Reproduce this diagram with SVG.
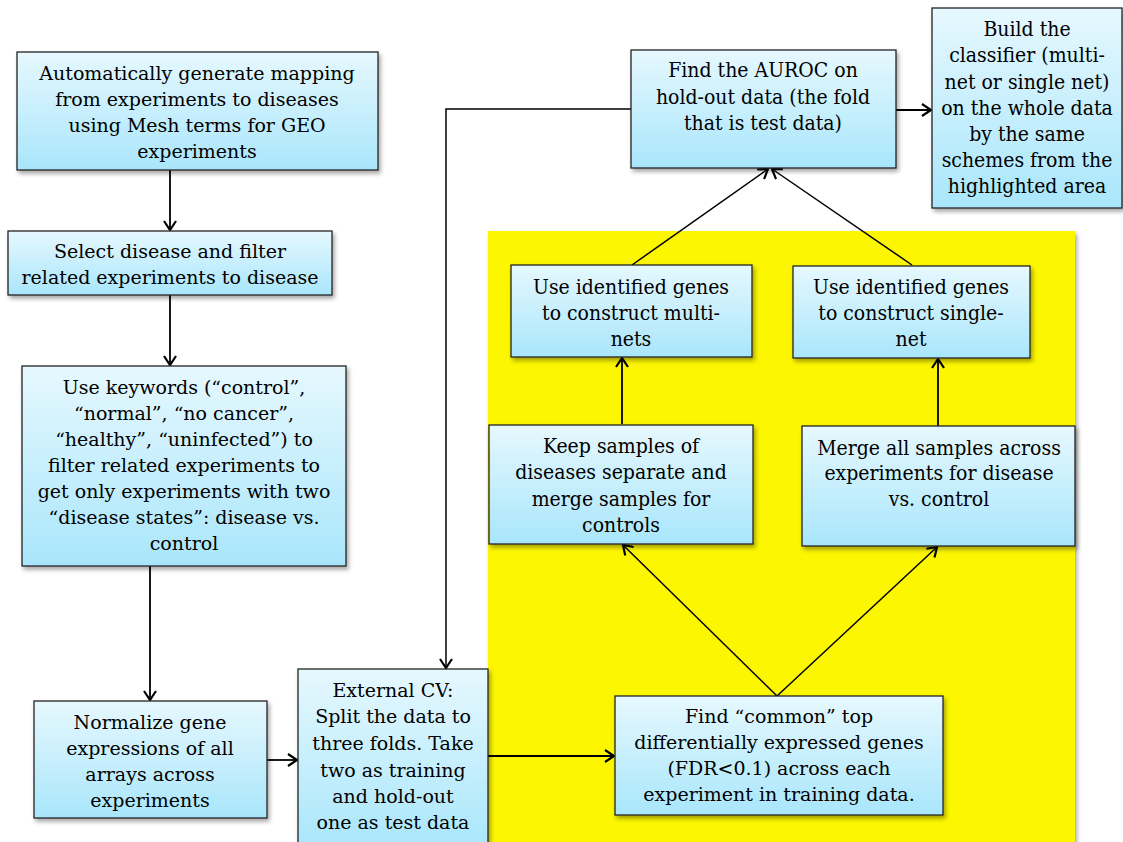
<svg xmlns="http://www.w3.org/2000/svg" width="1123" height="842" viewBox="0 0 1123 842">
<defs>
<linearGradient id="bg" x1="0" y1="0" x2="0" y2="1">
<stop offset="0" stop-color="#e6f8fe"/>
<stop offset="1" stop-color="#a9e6fb"/>
</linearGradient>
<filter id="sh" x="-10%" y="-10%" width="125%" height="130%">
<feDropShadow dx="2" dy="3" stdDeviation="2" flood-color="#000" flood-opacity="0.35"/>
</filter>
<marker id="ah" markerWidth="14" markerHeight="14" refX="10" refY="7" orient="auto" markerUnits="userSpaceOnUse">
<path d="M1,1 L10,7 L1,13" fill="none" stroke="#000" stroke-width="2.2"/>
</marker>
</defs>
<style>
.box{fill:url(#bg);stroke:#222;stroke-width:1.3;filter:url(#sh)}
.t{font-family:"DejaVu Serif","Liberation Serif",serif;font-size:19px;fill:#000;text-anchor:middle}
.c{font-family:"DejaVu Serif","Liberation Serif",serif;font-stretch:condensed;font-size:21px;fill:#000;text-anchor:middle}
.ln{fill:none;stroke:#000;stroke-width:1.8}
.dg{fill:none;stroke:#000;stroke-width:1.5}
</style>
<rect x="0" y="0" width="1123" height="842" fill="#fff"/>
<rect id="highlight" x="488" y="231" width="587" height="611" fill="#fcf600" style="filter:url(#sh)"/>

<g id="connectors">
<line class="ln" x1="170" y1="170" x2="170" y2="230" marker-end="url(#ah)"/>
<line class="ln" x1="170" y1="295" x2="170" y2="365" marker-end="url(#ah)"/>
<line class="ln" x1="150" y1="566" x2="150" y2="700" marker-end="url(#ah)"/>
<line class="ln" x1="267" y1="760" x2="297" y2="760" marker-end="url(#ah)"/>
<line class="ln" x1="488" y1="756" x2="614" y2="756" marker-end="url(#ah)"/>
<polyline class="dg" points="631,109 446,109 446,668" marker-end="url(#ah)"/>
<line class="ln" x1="896" y1="110" x2="931" y2="110" marker-end="url(#ah)"/>
<line class="dg" x1="632" y1="265" x2="768" y2="169" marker-end="url(#ah)"/>
<line class="dg" x1="912" y1="265" x2="772" y2="169" marker-end="url(#ah)"/>
<line class="ln" x1="622" y1="424" x2="622" y2="358" marker-end="url(#ah)"/>
<line class="ln" x1="938" y1="426" x2="938" y2="359" marker-end="url(#ah)"/>
<line class="dg" x1="777" y1="696" x2="623" y2="545" marker-end="url(#ah)"/>
<line class="dg" x1="777" y1="696" x2="937" y2="547" marker-end="url(#ah)"/>
</g>

<g id="n1">
<rect class="box" x="17" y="52" width="361" height="118"/>
<text class="t" x="197" y="80">Automatically generate mapping</text>
<text class="t" x="197" y="106">from experiments to diseases</text>
<text class="t" x="197" y="132">using Mesh terms for GEO</text>
<text class="t" x="197" y="158">experiments</text>
</g>
<g id="n2">
<rect class="box" x="8" y="231" width="324" height="64"/>
<text class="t" x="170" y="258">Select disease and filter</text>
<text class="t" x="170" y="284">related experiments to disease</text>
</g>
<g id="n3">
<rect class="box" x="22" y="366" width="324" height="200"/>
<text class="t" x="184" y="394">Use keywords (“control”,</text>
<text class="t" x="184" y="420">“normal”, “no cancer”,</text>
<text class="t" x="184" y="446">“healthy”, “uninfected”) to</text>
<text class="t" x="184" y="472">filter related experiments to</text>
<text class="t" x="184" y="498">get only experiments with two</text>
<text class="t" x="184" y="524">“disease states”: disease vs.</text>
<text class="t" x="184" y="550">control</text>
</g>
<g id="n4">
<rect class="box" x="34" y="701" width="233" height="117"/>
<text class="t" x="150" y="729">Normalize gene</text>
<text class="t" x="150" y="755">expressions of all</text>
<text class="t" x="150" y="781">arrays across</text>
<text class="t" x="150" y="807">experiments</text>
</g>
<g id="n5">
<rect class="box" x="298" y="669" width="190" height="180"/>
<text class="t" x="393" y="697">External CV:</text>
<text class="t" x="393" y="723">Split the data to</text>
<text class="t" x="393" y="750">three folds. Take</text>
<text class="t" x="393" y="777">two as training</text>
<text class="t" x="393" y="803">and hold-out</text>
<text class="t" x="393" y="829">one as test data</text>
</g>
<g id="n6">
<rect class="box" x="615" y="696" width="328" height="119"/>
<text class="t" x="779" y="723">Find “common” top</text>
<text class="t" x="779" y="749">differentially expressed genes</text>
<text class="t" x="779" y="775">(FDR&lt;0.1) across each</text>
<text class="t" x="779" y="801">experiment in training data.</text>
</g>
<g id="n7">
<rect class="box" x="489" y="425" width="264" height="119"/>
<text class="c" x="621" y="453">Keep samples of</text>
<text class="c" x="621" y="479">diseases separate and</text>
<text class="c" x="621" y="506">merge samples for</text>
<text class="c" x="621" y="532">controls</text>
</g>
<g id="n8">
<rect class="box" x="802" y="426" width="273" height="120"/>
<text class="c" x="939" y="455">Merge all samples across</text>
<text class="c" x="939" y="480">experiments for disease</text>
<text class="c" x="939" y="506">vs. control</text>
</g>
<g id="n9">
<rect class="box" x="511" y="265" width="241" height="92"/>
<text class="c" x="631" y="294">Use identified genes</text>
<text class="c" x="631" y="320">to construct multi-</text>
<text class="c" x="631" y="346">nets</text>
</g>
<g id="n10">
<rect class="box" x="793" y="266" width="237" height="92"/>
<text class="c" x="911" y="294">Use identified genes</text>
<text class="c" x="911" y="320">to construct single-</text>
<text class="c" x="911" y="346">net</text>
</g>
<g id="n11">
<rect class="box" x="631" y="50" width="265" height="118"/>
<text class="c" x="763" y="77">Find the AUROC on</text>
<text class="c" x="763" y="104">hold-out data (the fold</text>
<text class="c" x="763" y="130">that is test data)</text>
</g>
<g id="n12">
<rect class="box" x="932" y="8" width="190" height="200"/>
<text class="c" x="1027" y="36">Build the</text>
<text class="c" x="1027" y="62">classifier  (multi-</text>
<text class="c" x="1027" y="89">net or single net)</text>
<text class="c" x="1027" y="115">on the whole data</text>
<text class="c" x="1027" y="141">by the same</text>
<text class="c" x="1027" y="167">schemes from the</text>
<text class="c" x="1027" y="193">highlighted area</text>
</g>
</svg>
